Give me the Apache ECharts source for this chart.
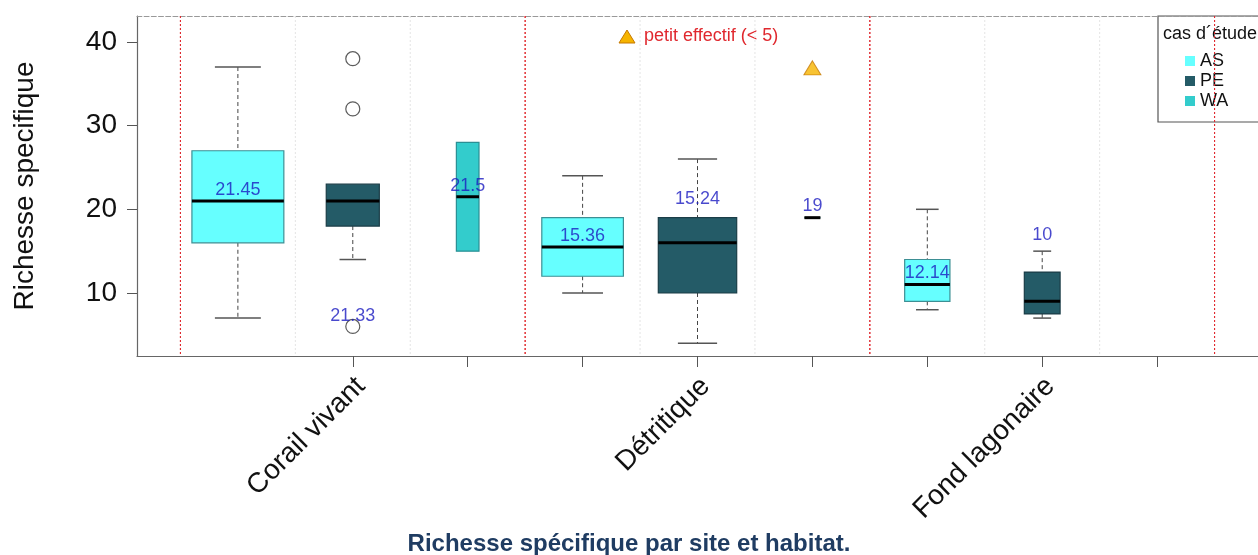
<!DOCTYPE html>
<html>
<head>
<meta charset="utf-8">
<script src="https://cdn.jsdelivr.net/npm/echarts@6/dist/echarts.min.js"></script>
<style>
  html, body { margin: 0; padding: 0; background: #ffffff; }
  #chart { width: 1258px; height: 555px; }
</style>
</head>
<body>
<div id="chart"></div>
<script>
// Habitats on the x axis, each split into three study sites
const habitats = ['Corail vivant', 'Détritique', 'Fond lagonaire'];
const sites = ['AS', 'PE', 'WA'];

// Five-number summaries [min, q1, median, q3, max], habitat by habitat, site by site
const boxStats = [
  [7, 16, 21, 27, 37],      // Corail vivant - AS
  [14, 18, 21, 23, 23],     // Corail vivant - PE
  [15, 15, 21.5, 28, 28],   // Corail vivant - WA
  [10, 12, 15.5, 19, 24],   // Détritique - AS
  [4, 10, 16, 19, 26],      // Détritique - PE
  [19, 19, 19, 19, 19],     // Détritique - WA
  [8, 9, 11, 14, 20],       // Fond lagonaire - AS
  [7, 7.5, 9, 12.5, 15],    // Fond lagonaire - PE
  null                      // Fond lagonaire - WA (no sample)
];
// Number of stations behind each box (box width grows with sqrt(n))
const sampleSizes = [33, 11, 2, 26, 24, 1, 8, 5, 0];
// Outlying stations
const outlierValues = [[], [38, 32, 6], [], [], [], [], [], [], []];
// Mean richness written beside each box, and the height where it is written
const meanValues = [21.45, 21.33, 21.5, 15.36, 15.24, 19, 12.14, 10, null];
const meanLabelY = [22.3, 7.3, 22.8, 16.8, 21.2, 20.4, 12.4, 16.9, null];
// Boxes built on a small sample (< 5)
const smallSample = [false, false, false, false, false, true, false, false, false];
const smallSampleMarkY = 36.9;
const yTicks = [10, 20, 30, 40];

const siteFill = { AS: '#66ffff', PE: '#245b67', WA: '#33cccc' };
const siteBorder = { AS: '#3d8f94', PE: '#1a3d47', WA: '#2a8f94' };
const FONT = 'Liberation Sans, Arial, sans-serif';
const Y_MIN = 2.47, Y_MAX = 43.1;
const X_MIN = -0.878, X_MAX = 8.878;

const nMax = Math.max.apply(null, sampleSizes);
const slotCount = habitats.length * sites.length;

// Box data: [slot, min, q1, median, q3, max, n]
const boxData = [];
boxStats.forEach(function (s, i) {
  if (s) boxData.push([i, s[0], s[1], s[2], s[3], s[4], sampleSizes[i]]);
});
const outlierData = [];
outlierValues.forEach(function (arr, i) {
  arr.forEach(function (v) { outlierData.push([i, v]); });
});
const meanData = [];
meanValues.forEach(function (m, i) {
  if (m !== null) meanData.push([i, meanLabelY[i], m]);
});
const smallData = [];
smallSample.forEach(function (f, i) { if (f) smallData.push([i, smallSampleMarkY]); });

// Habitat separators (red) and site separators (light grey)
const separatorData = [];
for (let k = 0; k <= habitats.length; k++) separatorData.push([k * sites.length - 0.5, 1]);
for (let k = 0; k < habitats.length; k++) {
  for (let j = 1; j < sites.length; j++) separatorData.push([k * sites.length + j - 0.5, 0]);
}

const tickSlots = [];
for (let i = 1; i < slotCount; i++) tickSlots.push(i);
const labelSlots = habitats.map(function (h, k) { return k * sites.length + 1 + 0.07; });

function renderBox(params, api) {
  const x = api.value(0);
  const mn = api.value(1), q1 = api.value(2), med = api.value(3), q3 = api.value(4), mx = api.value(5);
  const n = api.value(6);
  const half = 0.4 * Math.sqrt(n / nMax);
  const site = sites[x % sites.length];
  const pTL = api.coord([x - half, q3]);
  const pBR = api.coord([x + half, q1]);
  const cx = api.coord([x, med])[0];
  const capHalf = (pBR[0] - pTL[0]) / 4;
  const yMin = api.coord([x, mn])[1];
  const yMax = api.coord([x, mx])[1];
  const yMed = api.coord([x, med])[1];
  const children = [];
  const whiskerStyle = { stroke: '#444', lineWidth: 1, lineDash: [4, 3] };
  const capStyle = { stroke: '#555', lineWidth: 1.5 };
  if (mx > q3) {
    children.push({ type: 'line', shape: { x1: cx, y1: yMax, x2: cx, y2: pTL[1] }, style: whiskerStyle });
    children.push({ type: 'line', shape: { x1: cx - capHalf, y1: yMax, x2: cx + capHalf, y2: yMax }, style: capStyle });
  }
  if (mn < q1) {
    children.push({ type: 'line', shape: { x1: cx, y1: pBR[1], x2: cx, y2: yMin }, style: whiskerStyle });
    children.push({ type: 'line', shape: { x1: cx - capHalf, y1: yMin, x2: cx + capHalf, y2: yMin }, style: capStyle });
  }
  children.push({
    type: 'rect',
    shape: { x: pTL[0], y: pTL[1], width: pBR[0] - pTL[0], height: pBR[1] - pTL[1] },
    style: { fill: siteFill[site], stroke: siteBorder[site], lineWidth: 1.2 }
  });
  children.push({
    type: 'line',
    shape: { x1: pTL[0], y1: yMed, x2: pBR[0], y2: yMed },
    style: { stroke: '#000', lineWidth: 3 }
  });
  return { type: 'group', children: children };
}

function renderSeparator(params, api) {
  const x = api.value(0);
  const major = api.value(1) === 1;
  const top = api.coord([x, Y_MAX]);
  const bottom = api.coord([x, Y_MIN]);
  return {
    type: 'line',
    shape: { x1: top[0], y1: top[1], x2: bottom[0], y2: bottom[1] },
    style: major
      ? { stroke: '#e02a2f', lineWidth: 1, lineDash: [2, 2] }
      : { stroke: '#e4e4e4', lineWidth: 1, lineDash: [2, 2] }
  };
}

const chart = echarts.init(document.getElementById('chart'), null, { renderer: 'canvas' });

const option = {
  backgroundColor: '#ffffff',
  animation: false,
  title: {
    text: 'Richesse spécifique par site et habitat.',
    left: 'center',
    top: 527,
    textStyle: { fontFamily: FONT, fontSize: 24, fontWeight: 'bold', color: '#1f3c62' }
  },
  grid: { left: 137, top: 16, width: 1122, bottom: 199, containLabel: false },
  xAxis: [{
    type: 'value',
    min: X_MIN,
    max: X_MAX,
    splitLine: { show: false },
    axisLine: { show: true, onZero: false, lineStyle: { color: '#666', width: 1.2 } },
    axisTick: { show: true, customValues: tickSlots, length: 11, lineStyle: { color: '#555' } },
    axisLabel: {
      show: true,
      customValues: labelSlots,
      rotate: 45,
      margin: 26,
      fontFamily: FONT,
      fontSize: 28,
      color: '#111',
      formatter: function (v) { return habitats[Math.round((v - 1) / sites.length)]; }
    }
  }, {
    type: 'value',
    position: 'top',
    min: X_MIN,
    max: X_MAX,
    splitLine: { show: false },
    axisLine: { show: true, onZero: false, lineStyle: { color: '#999', type: 'dashed', width: 1.2 } },
    axisTick: { show: false },
    axisLabel: { show: false }
  }],
  yAxis: {
    type: 'value',
    min: Y_MIN,
    max: Y_MAX,
    splitLine: { show: false },
    axisLine: { show: true, onZero: false, lineStyle: { color: '#666', width: 1.2 } },
    axisTick: { show: true, customValues: yTicks, length: 10, lineStyle: { color: '#555' } },
    axisLabel: { customValues: yTicks, margin: 20, fontFamily: FONT, fontSize: 28, color: '#111' },
    name: 'Richesse specifique',
    nameLocation: 'middle',
    nameRotate: 90,
    nameGap: 98,
    nameTextStyle: { fontFamily: FONT, fontSize: 28, color: '#111' }
  },
  series: [
    {
      type: 'custom',
      name: 'separators',
      renderItem: renderSeparator,
      encode: { x: 0 },
      data: separatorData,
      z: 1,
      silent: true
    },
    {
      type: 'custom',
      name: 'boxes',
      renderItem: renderBox,
      encode: { x: 0, y: [1, 2, 3, 4, 5] },
      data: boxData,
      z: 3,
      silent: true
    },
    {
      type: 'scatter',
      name: 'outliers',
      data: outlierData,
      symbol: 'circle',
      symbolSize: 14,
      itemStyle: { color: '#ffffff', borderColor: '#333', borderWidth: 1.2 },
      z: 4,
      silent: true
    },
    {
      type: 'scatter',
      name: 'small',
      data: smallData,
      symbol: 'triangle',
      symbolSize: [17, 14],
      itemStyle: { color: '#f6b400', borderColor: '#c67800', borderWidth: 1 },
      z: 4,
      silent: true
    },
    {
      type: 'scatter',
      name: 'means',
      data: meanData,
      symbolSize: 0,
      z: 5,
      silent: true,
      label: {
        show: true,
        position: 'inside',
        formatter: function (p) { return String(p.value[2]); },
        fontFamily: FONT,
        fontSize: 18,
        color: '#1c1cc0'
      }
    },
    {
      // red habitat separators drawn again over the legend box
      type: 'custom',
      name: 'separators-top',
      renderItem: renderSeparator,
      encode: { x: 0 },
      data: separatorData.filter(function (d) { return d[1] === 1; }),
      z: 20,
      silent: true
    }
  ],
  graphic: [
    {
      type: 'group',
      z: 10,
      children: [
        { type: 'polygon', shape: { points: [[619, 43], [635, 43], [627, 30]] },
          style: { fill: '#f6b400', stroke: '#c67800', lineWidth: 1 } },
        { type: 'text', x: 644, y: 36,
          style: { text: 'petit effectif (< 5)', fontFamily: FONT, fontSize: 18, fill: '#e0282e', verticalAlign: 'middle' } }
      ]
    },
    {
      type: 'group',
      z: 10,
      children: [
        { type: 'rect', shape: { x: 1158, y: 16, width: 120, height: 106 },
          style: { fill: '#ffffff', stroke: '#555', lineWidth: 1.2 } },
        { type: 'text', x: 1163, y: 34,
          style: { text: 'cas d\u00b4étude', fontFamily: FONT, fontSize: 18, fill: '#111', verticalAlign: 'middle' } }
      ].concat(sites.reduce(function (acc, s, i) {
        const y = 61 + i * 20;
        acc.push({ type: 'rect', shape: { x: 1185, y: y - 5, width: 10, height: 10 },
          style: { fill: siteFill[s] } });
        acc.push({ type: 'text', x: 1200, y: y,
          style: { text: s, fontFamily: FONT, fontSize: 18, fill: '#111', verticalAlign: 'middle' } });
        return acc;
      }, []))
    }
  ]
};

chart.setOption(option);
</script>
</body>
</html>
